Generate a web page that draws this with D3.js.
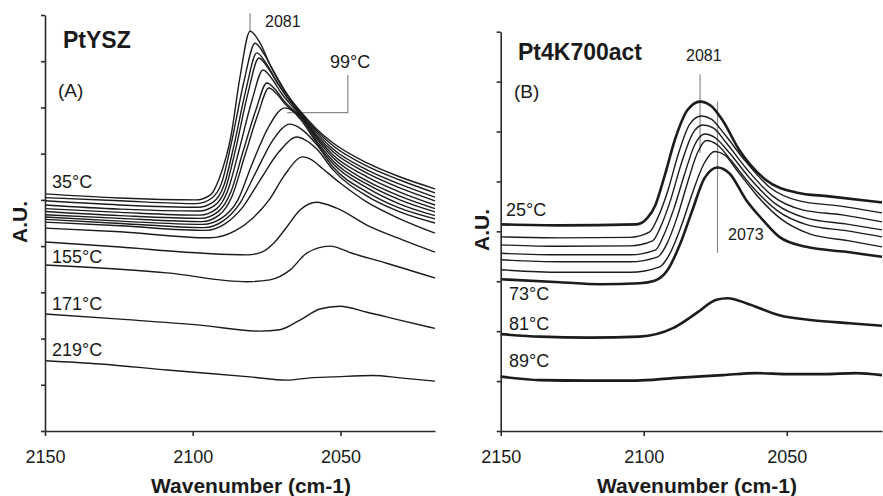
<!DOCTYPE html>
<html>
<head>
<meta charset="utf-8">
<script src="https://cdn.jsdelivr.net/npm/d3@7"></script>
<style>
  body { margin: 0; background: #fff; }
  text { font-family: "Liberation Sans", Arial, sans-serif; fill: #1a1a1a; }
</style>
</head>
<body>
<script>
// IR spectra of CO on Pt, two catalysts, curves stacked by temperature
// every series is [wavenumber, A.U.]

var xTicks = [2150, 2100, 2050];

// (A) PtYSZ, 35°C at the top down to 219°C
var ysz35 = [[2150,51.3],[2125,50.4],[2099,50.0],[2094,51.1],[2091,54.7],[2087,64.0],[2084,76.6],[2080.6,86.5],[2077,83.7],[2074,79.4],[2069.5,74.2],[2064,69.5],[2058,65.3],[2052.5,62.3],[2041,58.0],[2030,55.0],[2018,52.4]];
var ysz2 = [[2150,50.5],[2124.6,49.8],[2098.6,49.2],[2093.5,50.4],[2090.1,53.9],[2086.7,63.0],[2082.7,75.5],[2078.9,83.9],[2075.9,81.6],[2072.5,77.7],[2068.1,72.9],[2063.7,69.0],[2058,64.9],[2052.5,61.7],[2041,57.3],[2029.9,54.3],[2018,51.5]];
var ysz3 = [[2150,49.8],[2124.6,48.9],[2098.2,48.4],[2093.1,49.5],[2089.4,53.2],[2086,61.9],[2082,73.8],[2078.3,81.8],[2075.2,79.6],[2071.8,75.9],[2067.8,72.0],[2063.7,68.8],[2058,64.5],[2052.5,61.0],[2041,56.5],[2029.9,53.4],[2018,50.6]];
var ysz4 = [[2150,48.9],[2124.6,48.0],[2097.9,47.6],[2092.8,48.7],[2089.1,52.1],[2085.4,61.2],[2081.3,73.1],[2077.6,80.7],[2074.5,78.5],[2071.2,75.1],[2067.4,71.6],[2063.7,68.6],[2058,64.0],[2052.5,60.4],[2041,55.8],[2029.9,52.6],[2018,49.8]];
var ysz5 = [[2150,48.1],[2124.6,47.3],[2097.5,46.7],[2092.1,48.0],[2088.1,52.1],[2084.3,60.8],[2080,71.4],[2076.2,78.1],[2073.2,76.2],[2069.8,72.9],[2066.4,70.3],[2063.7,68.4],[2058,63.6],[2052.5,59.7],[2041,55.0],[2029.9,51.7],[2018,48.9]];
var ysz6 = [[2150,47.5],[2124.6,46.6],[2097.2,46.0],[2091.5,47.4],[2087.1,51.7],[2083,60.4],[2078.6,69.5],[2074.9,75.3],[2072.2,74.0],[2069.1,71.4],[2066.1,69.5],[2063.7,68.2],[2058,63.2],[2052.5,59.1],[2041,54.1],[2029.9,50.8],[2018,48.1]];
var ysz7 = [[2150,46.8],[2124.6,46.0],[2096.9,45.3],[2091.1,46.7],[2086.7,50.8],[2082.3,59.7],[2077.9,68.6],[2074.2,74.2],[2071.5,72.9],[2068.4,70.5],[2065.7,69.0],[2063.4,67.7],[2058,62.7],[2052.5,58.4],[2041,53.4],[2029.9,50.0],[2018,47.4]];
var ysz99 = [[2150,46.3],[2124.6,45.4],[2096.5,44.7],[2090.1,46.1],[2084.7,50.0],[2080,57.6],[2074.5,65.6],[2068.8,69.9],[2066.1,69.2],[2063.4,67.3],[2058,62.3],[2052.5,57.8],[2041,52.6],[2029.9,49.1],[2018,46.6]];
var ysz9 = [[2150,45.8],[2124.6,44.9],[2096.2,44.0],[2089.8,45.4],[2084,49.3],[2078.6,56.0],[2072.8,63.0],[2067.1,66.4],[2064.4,65.8],[2061.7,64.5],[2058,61.9],[2052.5,57.1],[2041,51.7],[2029.9,48.2],[2018,45.9]];
var ysz10 = [[2150,45.2],[2124.6,44.4],[2095.5,43.4],[2089.1,44.8],[2083,48.5],[2077.2,54.3],[2070.8,60.4],[2064.7,63.6],[2062,63.0],[2058,61.0],[2052.5,56.5],[2041,50.8],[2029.9,47.4],[2018,45.0]];
var ysz11 = [[2150,43.9],[2124.6,43.1],[2094.2,41.8],[2085.7,43.3],[2079.6,46.1],[2073.9,50.2],[2069.1,55.2],[2062.7,59.3],[2059.6,58.6],[2056.3,56.9],[2050.2,53.7],[2041,49.5],[2029.9,45.9],[2018,42.8]];
var ysz12 = [[2150,40.9],[2124.6,39.8],[2097.5,38.5],[2081.6,38.1],[2076.6,38.7],[2072.2,40.9],[2068.1,44.2],[2063.7,47.8],[2058.1,49.5],[2051.3,48.2],[2040,44.2],[2028.8,41.3],[2018,38.7]];
var ysz155 = [[2150,35.9],[2108.7,34.2],[2081.6,32.3],[2073.9,32.7],[2067.1,34.8],[2061.4,38.5],[2053.6,40.0],[2045.8,38.4],[2034.4,36.3],[2018,33.1]];
var ysz171 = [[2150,25.3],[2124.6,24.2],[2097.5,22.9],[2077.2,21.6],[2070.5,21.9],[2063.7,24.0],[2056.9,26.4],[2050.2,27.0],[2041,25.7],[2029.9,24.0],[2018,22.2]];
var ysz219 = [[2150,15.2],[2131.4,14.5],[2108.7,13.2],[2080.6,11.7],[2068.1,11.0],[2060.3,11.5],[2052.5,11.7],[2039,12.0],[2029.9,11.5],[2018,10.8]];

// (B) Pt4K700act, 25°C at the top down to 89°C
var k25 = [[2150,41.4],[2129.3,41.2],[2102.6,41.4],[2098.7,42.7],[2095.9,45.3],[2092.8,50.9],[2088.9,58.7],[2084.7,64.3],[2080.3,66.0],[2076.4,65.1],[2072.5,62.3],[2066.6,56.3],[2057.3,50.3],[2046.8,47.8],[2035.2,47.0],[2016.7,45.8]];
var k2 = [[2150,38.9],[2129.3,38.7],[2104.9,38.8],[2097.9,39.9],[2095.1,42.7],[2091.6,48.1],[2087.8,55.7],[2083.9,61.5],[2079.9,63.1],[2076.4,62.5],[2071.8,59.5],[2064.8,54.3],[2056.1,48.9],[2045.6,46.1],[2031.7,45.1],[2016.7,43.7]];
var k3 = [[2150,37.3],[2129.3,37.0],[2104.9,37.1],[2096.9,38.1],[2094.1,40.9],[2090.6,46.3],[2086.8,53.7],[2083,59.5],[2079.3,61.3],[2075.6,60.7],[2071.1,57.7],[2063.7,52.3],[2055,47.1],[2044.5,44.3],[2030.6,43.3],[2016.7,41.9]];
var k4 = [[2150,35.6],[2129.3,35.3],[2104.9,35.3],[2095.8,36.3],[2093.1,39.1],[2089.6,44.3],[2085.7,51.5],[2082.2,57.3],[2078.7,59.5],[2074.9,58.7],[2070.3,55.9],[2063,50.7],[2053.9,45.5],[2043.5,42.7],[2029.5,41.5],[2016.7,40.3]];
var k5 = [[2150,34.3],[2129.3,33.9],[2104.9,33.9],[2095.1,34.9],[2091.9,37.5],[2088.4,42.7],[2084.6,49.9],[2081.1,55.9],[2078.1,58.2],[2074.2,57.3],[2069.6,54.3],[2062.3,49.1],[2053.2,44.1],[2042.8,41.3],[2028.8,40.1],[2016.7,38.9]];
var k6 = [[2150,32.3],[2129.3,31.8],[2104.9,31.8],[2094.4,32.9],[2090.9,35.5],[2087.1,40.7],[2083.2,47.3],[2079,53.5],[2075.2,56.0],[2071.7,55.3],[2067.5,52.3],[2060.9,47.5],[2052.5,42.7],[2042,39.5],[2028.1,38.1],[2016.7,36.9]];
var k73 = [[2150,30.4],[2129.3,29.8],[2115.3,29.4],[2101.4,29.6],[2096.2,30.1],[2091.6,32.3],[2087.1,37.7],[2083.2,43.9],[2078.7,50.7],[2074.2,52.8],[2070,51.6],[2064.2,46.3],[2058.4,42.3],[2052.6,38.9],[2043.2,36.9],[2029.3,35.9],[2016.7,34.9]];
var k81 = [[2150,19.4],[2136.3,18.9],[2118.9,18.7],[2101.4,18.9],[2089.8,20.6],[2081.6,23.6],[2074.6,26.3],[2070.6,26.6],[2064.2,25.6],[2052.6,23.2],[2041,22.2],[2028.1,21.6],[2016.7,21.1]];
var k89 = [[2150,10.9],[2136.3,10.2],[2118.9,10.1],[2102.6,10.1],[2089.8,10.6],[2072.3,11.2],[2060.7,11.6],[2049.1,11.4],[2037.5,11.4],[2025.8,11.6],[2016.7,11.2]];

var width = 883, height = 496;
var ink = "#1c1c1c", grey = "#8a8a8a";

var svg = d3.select("body").append("svg")
    .attr("width", width)
    .attr("height", height);

var panels = [{
    left: 45, right: 435, top: 15, yMax: 90, xEnd: 2018,
    series: [ysz35, ysz2, ysz3, ysz4, ysz5, ysz6, ysz7, ysz99, ysz9, ysz10, ysz11, ysz12, ysz155, ysz171, ysz219],
    thick: [],
    title: "PtYSZ", titleX: 63, titleY: 48,
    tag: "(A)", tagX: 58, tagY: 97,
    xLabelX: 251, auX: 27, auY: 222,
    temps: [["35°C", 52, 188], ["155°C", 52, 263], ["171°C", 52, 310], ["219°C", 52, 356]],
    notes: [["2081", 265, 27, 16], ["99°C", 330, 68, 18]],
    guides: [[[2080.6, 90.4], [2080.6, 86.5]], [[2047.5, 77.0], [2047.5, 68.9], [2068, 68.9]]]
}, {
    left: 500.7, right: 882, top: 31.7, yMax: 80, xEnd: 2016.7,
    series: [k25, k2, k3, k4, k5, k6, k73, k81, k89],
    thick: [0, 6, 7, 8],
    title: "Pt4K700act", titleX: 518, titleY: 60,
    tag: "(B)", tagX: 514, tagY: 98,
    xLabelX: 697, auX: 489, auY: 230,
    temps: [["25°C", 506, 216], ["73°C", 509, 300], ["81°C", 509, 330], ["89°C", 509, 367]],
    notes: [["2081", 686, 61, 16], ["2073", 728, 240, 16]],
    guides: [[[2080.3, 71.5], [2080.3, 55.7]], [[2074.2, 66.0], [2074.2, 35.7]]]
}];

panels.forEach(function(p) {
    var x = d3.scaleLinear().domain([2150, p.xEnd]).range([p.left, p.right]);
    var y = d3.scaleLinear().domain([0, p.yMax]).range([431, p.top]);
    var g = svg.append("g");

    var line = d3.line()
        .x(function(d) { return x(d[0]); })
        .y(function(d) { return y(d[1]); })
        .curve(d3.curveMonotoneX);

    // grey peak markers / bracket
    g.selectAll(".guide")
        .data(p.guides)
        .enter().append("path")
        .attr("d", d3.line().x(function(d) { return x(d[0]); }).y(function(d) { return y(d[1]); }))
        .attr("fill", "none")
        .attr("stroke", grey)
        .attr("stroke-width", 1.2);

    g.selectAll(".spec")
        .data(p.series)
        .enter().append("path")
        .attr("d", line)
        .attr("fill", "none")
        .attr("stroke", ink)
        .attr("stroke-width", function(d, i) { return p.thick.indexOf(i) >= 0 ? 2.6 : 1.4; });

    // axes
    var yAxis = g.append("g")
        .attr("transform", "translate(" + p.left + ",0)")
        .call(d3.axisLeft(y).tickValues(d3.range(0, p.yMax + 1, 10)).tickSize(4).tickSizeOuter(0).tickFormat(""));
    var xAxis = g.append("g")
        .attr("transform", "translate(0,431)")
        .call(d3.axisBottom(x).tickValues(xTicks).tickFormat(d3.format("d"))
            .tickSize(5).tickPadding(14).tickSizeOuter(0));
    [yAxis, xAxis].forEach(function(a) {
        a.attr("font-family", null);
        a.selectAll("path, line").attr("stroke", "#2a2a2a").attr("stroke-width", 1.6);
    });
    xAxis.selectAll("text").attr("font-size", 18).attr("fill", ink);

    g.append("text")
        .attr("x", p.xLabelX).attr("y", 493)
        .attr("text-anchor", "middle")
        .attr("font-size", 21).attr("font-weight", "bold")
        .text("Wavenumber (cm-1)");

    g.append("text")
        .attr("transform", "translate(" + p.auX + "," + p.auY + ") rotate(-90)")
        .attr("text-anchor", "middle")
        .attr("font-size", 21).attr("font-weight", "bold")
        .text("A.U.");

    g.append("text")
        .attr("x", p.titleX).attr("y", p.titleY)
        .attr("font-size", 23).attr("font-weight", "bold")
        .text(p.title);

    g.append("text")
        .attr("x", p.tagX).attr("y", p.tagY)
        .attr("font-size", 19)
        .text(p.tag);

    g.selectAll(".temp")
        .data(p.temps)
        .enter().append("text")
        .attr("x", function(d) { return d[1]; })
        .attr("y", function(d) { return d[2]; })
        .attr("font-size", 18)
        .text(function(d) { return d[0]; });

    g.selectAll(".note")
        .data(p.notes)
        .enter().append("text")
        .attr("x", function(d) { return d[1]; })
        .attr("y", function(d) { return d[2]; })
        .attr("font-size", function(d) { return d[3]; })
        .text(function(d) { return d[0]; });
});
</script>
</body>
</html>
